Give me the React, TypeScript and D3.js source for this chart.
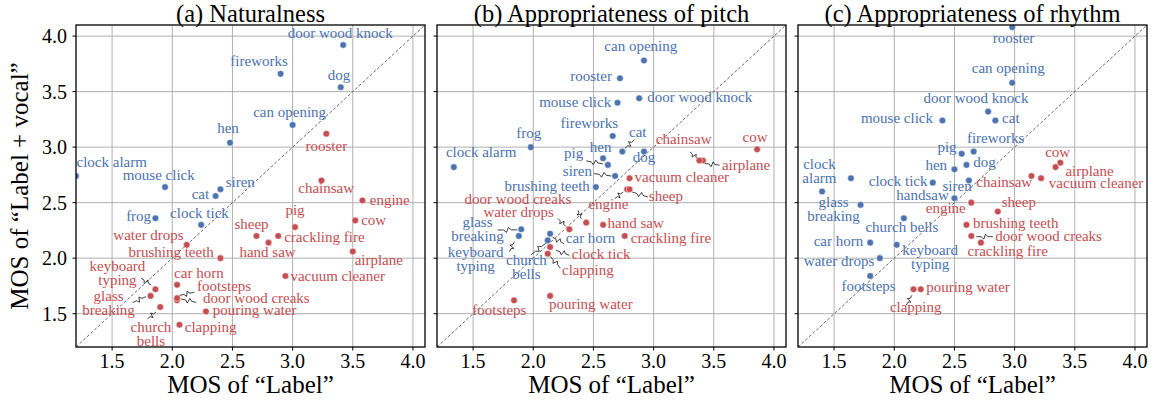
import React from 'react';
import { scaleLinear, line } from 'd3';

// sound categories, same order in every series below
const categories = [
  'airplane', 'brushing teeth', 'can opening', 'car horn', 'cat', 'chainsaw',
  'church bells', 'clapping', 'clock alarm', 'clock tick', 'cow', 'crackling fire',
  'dog', 'door wood creaks', 'door wood knock', 'engine', 'fireworks', 'footsteps',
  'frog', 'glass breaking', 'hand saw', 'hen', 'keyboard typing', 'mouse click',
  'pig', 'pouring water', 'rooster', 'sheep', 'siren', 'vacuum cleaner', 'water drops',
];

// (a) Naturalness
const naturalnessLabel = [
  3.50, 2.40, 3.00, 2.04, 2.36, 3.24, 1.90, 2.06, 1.20, 2.24, 3.52, 2.88,
  3.40, 2.04, 3.42, 3.58, 2.90, 2.04, 1.86, 1.82, 2.80, 2.48, 1.86, 1.94,
  3.02, 2.28, 3.28, 2.70, 2.40, 2.94, 2.12,
];
const naturalnessVocal = [
  2.06, 2.00, 3.20, 1.76, 2.56, 2.70, 1.56, 1.40, 2.74, 2.30, 2.34, 2.20,
  3.54, 1.62, 3.92, 2.52, 3.66, 1.64, 2.36, 1.66, 2.14, 3.04, 1.72, 2.64,
  2.28, 1.52, 3.12, 2.20, 2.62, 1.84, 2.12,
];

// (b) Appropriateness of pitch
const pitchLabel = [
  3.41, 2.52, 2.92, 2.14, 2.74, 3.38, 2.12, 2.12, 1.34, 2.14, 3.86, 2.76,
  2.92, 2.44, 2.88, 2.78, 2.66, 1.84, 1.98, 1.90, 2.58, 2.58, 1.88, 2.70,
  2.62, 2.14, 2.72, 2.80, 2.68, 2.80, 2.30,
];
const pitchVocal = [
  2.88, 2.64, 3.78, 2.22, 2.96, 2.88, 2.16, 2.04, 2.82, 2.10, 2.98, 2.20,
  2.96, 2.32, 3.44, 2.62, 3.10, 1.62, 3.00, 2.26, 2.30, 2.90, 2.20, 3.40,
  2.84, 1.66, 3.62, 2.62, 2.74, 2.72, 2.26,
];

// (c) Appropriateness of rhythm
const rhythmLabel = [
  3.34, 2.60, 2.98, 1.80, 2.84, 3.14, 2.08, 2.16, 1.64, 2.32, 3.38, 2.72,
  2.60, 2.64, 2.78, 2.64, 2.66, 1.80, 1.40, 1.72, 2.50, 2.50, 2.02, 2.40,
  2.56, 2.22, 2.98, 2.86, 2.62, 3.22, 1.88,
];
const rhythmVocal = [
  2.82, 2.30, 3.58, 2.14, 3.24, 2.74, 2.36, 1.72, 2.72, 2.68, 2.86, 2.14,
  2.84, 2.20, 3.32, 2.50, 2.96, 1.84, 2.60, 2.48, 2.54, 2.80, 2.12, 3.24,
  2.94, 1.72, 4.08, 2.42, 2.70, 2.72, 2.00,
];

const tickValues = [1.5, 2.0, 2.5, 3.0, 3.5, 4.0];
const axisDomain = [1.2, 4.1];

const BLUE = '#4c72b0';
const RED = '#c44e52';
const FONT = '"Liberation Serif", "Times New Roman", serif';

// label placement (pixel offset from the point, anchor, optional text override)
type Place = [number, number, string, string?];
type Leader = [number, number, number, number];

const placeA: Record<string, Place> = {
  'airplane': [26, 13.3, 'middle'],
  'brushing teeth': [-6.6, -1, 'end'],
  'can opening': [-3, -8.3, 'middle'],
  'car horn': [21.8, -6.7, 'middle'],
  'cat': [-6.4, 3, 'end'],
  'chainsaw': [4.7, 12.6, 'middle'],
  'church bells': [-9.3, 25, 'middle', 'church\nbells'],
  'clapping': [5.3, 7, 'start'],
  'clock alarm': [0.5, -9.3, 'start'],
  'clock tick': [-1.7, -6.7, 'middle'],
  'cow': [6, 4.3, 'start'],
  'crackling fire': [6, 6.4, 'start'],
  'dog': [-1.7, -7, 'middle'],
  'door wood creaks': [79.3, 2.6, 'middle'],
  'door wood knock': [-3, -7.4, 'middle'],
  'engine': [7.3, 4.3, 'start'],
  'fireworks': [-21.5, -8.3, 'middle'],
  'footsteps': [47, -7, 'middle'],
  'frog': [-4.3, 2.4, 'end'],
  'glass breaking': [-42, 4.7, 'middle', 'glass\nbreaking'],
  'hand saw': [-1, 14.6, 'middle'],
  'hen': [-2, -9.3, 'middle'],
  'keyboard typing': [-38, -18.3, 'middle', 'keyboard\ntyping'],
  'mouse click': [-6.3, -7.3, 'middle'],
  'pig': [0, -12.3, 'middle'],
  'pouring water': [6.7, 4, 'start'],
  'rooster': [0, 17, 'middle'],
  'sheep': [-5, -7, 'middle'],
  'siren': [5.3, -2.6, 'start'],
  'vacuum cleaner': [5, 4.7, 'start'],
  'water drops': [-38.2, -4.6, 'middle'],
};
const leadersA: Record<string, Leader> = {
  'keyboard typing': [-14.3, -11, -4.3, -4.3],
  'glass breaking': [-18, 6.7, -4.7, 0.7],
  'church bells': [-12.6, 11.6, -4.3, 5],
  'footsteps': [17.3, -6, 2.3, -2.7],
  'door wood creaks': [19, 2, 4, -1.4],
};

const placeB: Record<string, Place> = {
  'airplane': [19, 9.7, 'start'],
  'brushing teeth': [-6, 3.7, 'end'],
  'can opening': [-3.2, -10, 'middle'],
  'car horn': [15.7, 9.4, 'start'],
  'cat': [15.4, -15, 'middle'],
  'chainsaw': [-15.7, -16.3, 'middle'],
  'church bells': [-21.3, 24.3, 'middle', 'church\nbells'],
  'clapping': [14.3, 21, 'start'],
  'clock alarm': [27.3, -10, 'middle'],
  'clock tick': [21.7, 11.6, 'start'],
  'cow': [-2, -7.6, 'middle'],
  'crackling fire': [6, 6.7, 'start'],
  'dog': [0, 10, 'middle'],
  'door wood creaks': [-68.3, -19, 'middle'],
  'door wood knock': [8, 3.4, 'start'],
  'engine': [-18.7, 20, 'middle'],
  'fireworks': [-23.4, -8.3, 'middle'],
  'footsteps': [-14.7, 14.3, 'middle'],
  'frog': [-2, -8.7, 'middle'],
  'glass breaking': [-43.7, -2, 'middle', 'glass\nbreaking'],
  'hand saw': [4.5, 3.3, 'start'],
  'hen': [-2.5, -6.6, 'middle'],
  'keyboard typing': [-43.2, 21.3, 'middle', 'keyboard\ntyping'],
  'mouse click': [-6.3, 4, 'end'],
  'pig': [-34.2, -7.4, 'middle'],
  'pouring water': [40.7, 13, 'middle'],
  'rooster': [-8, 2.4, 'end'],
  'sheep': [19.3, 11.7, 'start'],
  'siren': [-37.7, 0, 'middle'],
  'vacuum cleaner': [5, 3.4, 'start'],
  'water drops': [-50.8, -12.6, 'middle'],
};
const leadersB: Record<string, Leader> = {
  'cat': [12, -11.7, 2.7, -3.4],
  'pig': [-21.7, -4, -5, -1],
  'siren': [-21, -2.4, -3.7, 0],
  'chainsaw': [-9.4, -8.6, -1, -1],
  'airplane': [16.6, 4.7, 1.6, 3],
  'sheep': [18.3, 7.7, 2.7, 2.7],
  'engine': [-12.4, 9.3, -4, 2.7],
  'door wood creaks': [-8.3, -12.3, -5, -4],
  'water drops': [-11.6, -11, -3.3, -2.6],
  'glass breaking': [-23.6, 0.7, -4, 0.5],
  'keyboard typing': [-9.4, 15.7, -4.4, 5.7],
  'church bells': [-16.7, 14.3, -1.7, 2.6],
  'car horn': [14, 10, 2.4, 3.4],
  'clock tick': [19.3, 8.3, 6, 3.3],
  'clapping': [12.6, 14.3, 2.6, 2.7],
};

const placeC: Record<string, Place> = {
  'airplane': [34, 9.3, 'middle'],
  'brushing teeth': [6.6, 3, 'start'],
  'can opening': [-4, -10, 'middle'],
  'car horn': [-7, 3.3, 'end'],
  'cat': [6.7, 2.6, 'start'],
  'chainsaw': [-27.2, 11, 'middle'],
  'church bells': [-2, 14, 'middle'],
  'clapping': [2.2, 22.7, 'middle'],
  'clock alarm': [-31.5, -9.7, 'middle', 'clock\nalarm'],
  'clock tick': [-5.3, 3.3, 'end'],
  'cow': [-2.7, -6, 'middle'],
  'crackling fire': [26.8, 13.7, 'middle'],
  'dog': [6.7, 2, 'start'],
  'door wood creaks': [24, 5, 'start'],
  'door wood knock': [-12.2, -8.4, 'middle'],
  'engine': [-25.5, 10.6, 'middle'],
  'fireworks': [22, -9, 'middle'],
  'footsteps': [-1.6, 14.7, 'middle'],
  'glass breaking': [-27, 2.6, 'middle', 'glass\nbreaking'],
  'hand saw': [-31.9, 1.3, 'middle', 'handsaw'],
  'hen': [-7.4, 1, 'end'],
  'keyboard typing': [33.5, 10.3, 'middle', 'keyboard\ntyping'],
  'mouse click': [-9.4, 2.6, 'end'],
  'pig': [-14.7, -2, 'middle'],
  'pouring water': [5.4, 2.7, 'start'],
  'rooster': [1.3, 16, 'middle'],
  'sheep': [4, -4.4, 'start'],
  'siren': [-11.8, 11, 'middle'],
  'vacuum cleaner': [55, 10, 'middle'],
  'water drops': [-40.8, 7.4, 'middle'],
};
const leadersC: Record<string, Leader> = {
  'door wood creaks': [21.6, 0.7, 5, 0.7],
  'clapping': [-7.3, 16, -1.6, 6],
};

const panels = [
  { title: '(a) Naturalness', xs: naturalnessLabel, ys: naturalnessVocal, place: placeA, leaders: leadersA },
  { title: '(b) Appropriateness of pitch', xs: pitchLabel, ys: pitchVocal, place: placeB, leaders: leadersB },
  { title: '(c) Appropriateness of rhythm', xs: rhythmLabel, ys: rhythmVocal, place: placeC, leaders: leadersC },
];

const WIDTH = 1156;
const HEIGHT = 404;
const PANEL_W = 349;
const PANEL_STEP = 361;
const LEFT = 76;
const TOP = 25;
const BOTTOM = 347;
const LINE_H = 14;

const lineGen = line<[number, number]>();

// little zigzag connector like the adjustText arrows in the original
function zigzag(x1: number, y1: number, x2: number, y2: number) {
  const dx = x2 - x1;
  const dy = y2 - y1;
  const len = Math.hypot(dx, dy) || 1;
  const nx = (-dy / len) * 2.5;
  const ny = (dx / len) * 2.5;
  const pts: [number, number][] = [
    [x1, y1],
    [x1 + dx * 0.3, y1 + dy * 0.3],
    [x1 + dx * 0.45 + nx, y1 + dy * 0.45 + ny],
    [x1 + dx * 0.55 - nx, y1 + dy * 0.55 - ny],
    [x1 + dx * 0.7, y1 + dy * 0.7],
    [x2, y2],
  ];
  return lineGen(pts) || '';
}

function Panel({ index, title, xs, ys, place, leaders }: any) {
  const x0 = LEFT + index * PANEL_STEP;
  const x = scaleLinear().domain(axisDomain).range([x0, x0 + PANEL_W]);
  const y = scaleLinear().domain(axisDomain).range([BOTTOM, TOP]);
  const clipId = `clip-${index}`;
  const cx = x0 + PANEL_W / 2;

  return (
    <g>
      <defs>
        <clipPath id={clipId}>
          <rect x={x0} y={TOP} width={PANEL_W} height={BOTTOM - TOP} />
        </clipPath>
      </defs>
      {/* grid */}
      {tickValues.map((t) => (
        <g key={`g${t}`} stroke="#b0b0b0" strokeWidth={1}>
          <line x1={x(t)} x2={x(t)} y1={TOP} y2={BOTTOM} />
          <line x1={x0} x2={x0 + PANEL_W} y1={y(t)} y2={y(t)} />
        </g>
      ))}
      {/* diagonal y = x */}
      <line
        x1={x(axisDomain[0])} y1={y(axisDomain[0])}
        x2={x(axisDomain[1])} y2={y(axisDomain[1])}
        stroke="#444" strokeWidth={0.8} strokeDasharray="3,2"
      />
      {/* leaders */}
      {categories.map((c) => {
        const l = leaders[c];
        if (!l) return null;
        const px = x(xs[categories.indexOf(c)]);
        const py = y(ys[categories.indexOf(c)]);
        return (
          <path key={`l${c}`} d={zigzag(px + l[0], py + l[1], px + l[2], py + l[3])}
            fill="none" stroke="#111" strokeWidth={0.8} />
        );
      })}
      {/* points */}
      <g clipPath={`url(#${clipId})`}>
        {categories.map((c, i) => (
          <circle key={`p${c}`} cx={x(xs[i])} cy={y(ys[i])} r={3.3}
            fill={ys[i] > xs[i] ? BLUE : RED} stroke="#fff" strokeWidth={0.5} />
        ))}
      </g>
      {/* point labels */}
      {categories.map((c, i) => {
        const p = place[c];
        if (!p) return null;
        const lines = (p[3] || c).split('\n');
        const tx = x(xs[i]) + p[0];
        const ty = y(ys[i]) + p[1];
        return (
          <text key={`t${c}`} x={tx} y={ty} textAnchor={p[2]} fontSize={15}
            fill={ys[i] > xs[i] ? BLUE : RED}>
            {lines.map((s: string, k: number) => (
              <tspan key={k} x={tx} y={ty + k * LINE_H}>{s}</tspan>
            ))}
          </text>
        );
      })}
      {/* frame */}
      <rect x={x0} y={TOP} width={PANEL_W} height={BOTTOM - TOP}
        fill="none" stroke="#000" strokeWidth={1.3} />
      {/* ticks */}
      {tickValues.map((t) => (
        <g key={`t${t}`}>
          <line x1={x(t)} x2={x(t)} y1={BOTTOM} y2={BOTTOM + 3.5} stroke="#000" />
          <text x={x(t)} y={BOTTOM + 21} textAnchor="middle" fontSize={20}>{t.toFixed(1)}</text>
          <line x1={x0 - 3.5} x2={x0} y1={y(t)} y2={y(t)} stroke="#000" />
          {index === 0 && (
            <text x={x0 - 9} y={y(t) + 7} textAnchor="end" fontSize={20}>{t.toFixed(1)}</text>
          )}
        </g>
      ))}
      <text x={cx} y={22} textAnchor="middle" fontSize={24.5}>{title}</text>
      <text x={cx} y={393} textAnchor="middle" fontSize={25}>MOS of “Label”</text>
    </g>
  );
}

export default function App() {
  return (
    <svg width={WIDTH} height={HEIGHT} fontFamily={FONT}
      style={{ position: 'absolute', left: 0, top: 0, background: '#fff' }}>
      <rect width={WIDTH} height={HEIGHT} fill="#fff" />
      {panels.map((p, i) => (
        <Panel key={p.title} index={i} {...p} />
      ))}
      <text transform="translate(28,186) rotate(-90)" textAnchor="middle" fontSize={25}>
        MOS of “Label + vocal”
      </text>
    </svg>
  );
}
